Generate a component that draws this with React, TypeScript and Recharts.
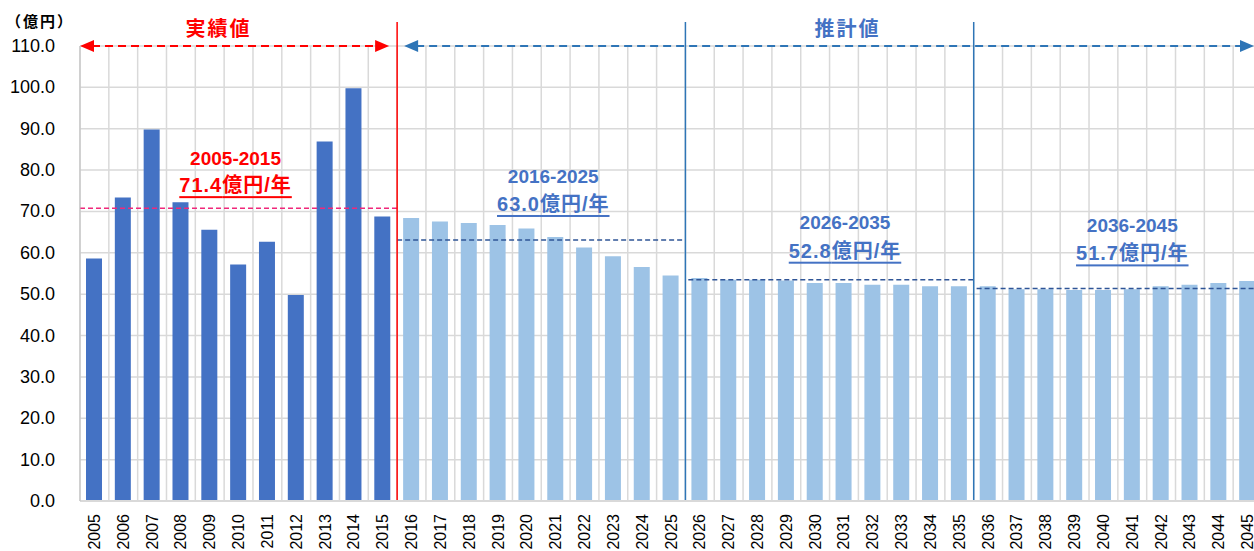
import React from 'react';
import {
  ComposedChart,
  Bar,
  Cell,
  XAxis,
  YAxis,
  CartesianGrid,
  ReferenceLine,
} from 'recharts';

// years on the x axis
const years = [
  '2005', '2006', '2007', '2008', '2009', '2010', '2011', '2012', '2013', '2014',
  '2015', '2016', '2017', '2018', '2019', '2020', '2021', '2022', '2023', '2024',
  '2025', '2026', '2027', '2028', '2029', '2030', '2031', '2032', '2033', '2034',
  '2035', '2036', '2037', '2038', '2039', '2040', '2041', '2042', '2043', '2044',
  '2045',
];

// 実績値 2005-2015 (億円)
const actualValues = [58.6, 73.4, 89.8, 72.2, 65.6, 57.2, 62.7, 49.8, 86.9, 99.8, 68.8];

// 推計値 2016-2045 (億円)
const forecastValues = [
  68.4, 67.6, 67.2, 66.7, 65.9, 63.8, 61.3, 59.2, 56.6, 54.5,
  53.9, 53.5, 53.5, 53.3, 52.7, 52.7, 52.3, 52.3, 51.9, 51.9,
  51.9, 51.2, 51.2, 51.0, 51.0, 51.2, 51.9, 52.3, 52.7, 53.2,
];

const yTicks = [0, 10, 20, 30, 40, 50, 60, 70, 80, 90, 100, 110];

// period averages
const periodNames = ['2005-2015', '2016-2025', '2026-2035', '2036-2045'];
const periodAverages = ['71.4', '63.0', '52.8', '51.7'];
const periodLineLevels = [70.8, 63.1, 53.5, 51.4];
const periodFrom = [0, 11, 21.1, 31.1];
const periodTo = [11, 21, 31, 41];

// boundaries between 実績 / 推計 blocks (in category slots)
const phaseBounds = [11, 21, 31];

const BLUE_DARK = '#4472C4';
const BLUE_LIGHT = '#9DC3E6';
const LINE_BLUE = '#2E75B6';
const RED = '#FF0000';
const FONT = "'Liberation Sans', 'Noto Sans CJK JP', Arial, sans-serif";

// slot = centre of each category on a 0..41 numeric scale (for boundary lines)
const data = years.map((year, i) => ({
  year,
  slot: i + 0.5,
  value: i < actualValues.length ? actualValues[i] : forecastValues[i - actualValues.length],
}));

// annotation layout (px offsets from the average line)
const annot = [
  { dx: -3, titleDy: -50, valueDy: -23, color: RED, line: '#F0287A' },
  { dx: 12, titleDy: -63, valueDy: -36, color: BLUE_DARK, line: '#2F5597' },
  { dx: 14, titleDy: -57, valueDy: -29, color: BLUE_DARK, line: '#2F5597' },
  { dx: 13, titleDy: -63, valueDy: -35, color: BLUE_DARK, line: '#2F5597' },
];

const XTick = (props: any) => {
  const { x, y, payload } = props;
  return (
    <text
      transform={`translate(${x},${y + 5}) rotate(-90)`}
      textAnchor="end"
      dominantBaseline="central"
      fontSize={16}
      fontFamily={FONT}
      fill="#000"
    >
      {payload.value}
    </text>
  );
};

const YTick = (props: any) => {
  const { y, payload } = props;
  return (
    <text x={55} y={y} textAnchor="end" dominantBaseline="central" fontSize={18} fontFamily={FONT} fill="#000">
      {Number(payload.value).toFixed(1)}
    </text>
  );
};

const arrowShape = (color: string, insetL: number, insetR: number) => (p: any) => {
  const y = p.y1;
  const a = Math.min(p.x1, p.x2) + insetL;
  const b = Math.max(p.x1, p.x2) - insetR;
  return (
    <g>
      <line x1={a + 12} x2={b - 12} y1={y} y2={y} stroke={color} strokeWidth={2} strokeDasharray="8 5" />
      <polygon points={`${a},${y} ${a + 14},${y - 6} ${a + 14},${y + 6}`} fill={color} />
      <polygon points={`${b},${y} ${b - 14},${y - 6} ${b - 14},${y + 6}`} fill={color} />
    </g>
  );
};

const tallLine = (color: string) => (p: any) => (
  <line
    x1={p.x1}
    x2={p.x2}
    y1={Math.min(p.y1, p.y2) - 24}
    y2={Math.max(p.y1, p.y2)}
    stroke={color}
    strokeWidth={1.5}
  />
);

const phaseTitle = (text: string, color: string, dx: number) => (props: any) => {
  const vb = props.viewBox || {};
  const cx = vb.x + vb.width / 2 + dx;
  return (
    <text
      x={cx}
      y={vb.y - 17}
      textAnchor="middle"
      dominantBaseline="central"
      fontSize={20}
      fontWeight="bold"
      letterSpacing={2}
      fontFamily={FONT}
      fill={color}
    >
      {text}
    </text>
  );
};

const periodLabel = (i: number) => (props: any) => {
  const vb = props.viewBox || {};
  const a = annot[i];
  const cx = vb.x + vb.width / 2 + a.dx;
  return (
    <g fontFamily={FONT} fontWeight="bold" fill={a.color} textAnchor="middle">
      <text x={cx} y={vb.y + a.titleDy} dominantBaseline="central" fontSize={19}>
        {periodNames[i]}
      </text>
      <text
        x={cx}
        y={vb.y + a.valueDy}
        dominantBaseline="central"
        fontSize={20}
        letterSpacing={1}
        style={{ textDecoration: 'underline' }}
      >
        {periodAverages[i]}億円/年
      </text>
    </g>
  );
};

const gridVerticals = ({ offset }: any) => {
  const left = offset.left;
  const w = offset.width;
  const step = w / years.length;
  return Array.from({ length: years.length + 1 }, (_, i) => left + i * step);
};

export default function App() {
  return (
    <div
      style={{
        position: 'absolute',
        left: 0,
        top: 0,
        width: 1254,
        height: 551,
        overflow: 'hidden',
        background: '#fff',
      }}
    >
      <ComposedChart width={1270} height={551} data={data} margin={{ top: 46, right: 8, bottom: 0, left: 0 }}>
        <CartesianGrid stroke="#D9D9D9" strokeWidth={1.5} verticalCoordinatesGenerator={gridVerticals} />
        <XAxis
          dataKey="year"
          interval={0}
          tickLine={false}
          axisLine={{ stroke: '#D9D9D9', strokeWidth: 2 }}
          height={50}
          tick={<XTick />}
        />
        <XAxis
          xAxisId="num"
          dataKey="slot"
          type="number"
          domain={[0, years.length]}
          allowDataOverflow
          hide
        />
        <YAxis
          domain={[0, 110]}
          ticks={yTicks}
          width={80}
          tickLine={false}
          axisLine={{ stroke: '#BFBFBF' }}
          tick={<YTick />}
          label={() => (
            <text x={40} y={21} textAnchor="middle" dominantBaseline="central" fontSize={15} fontWeight="bold" letterSpacing={2} fontFamily={FONT} fill="#000">
              （億円）
            </text>
          )}
        />
        <Bar dataKey="value" barSize={16} isAnimationActive={false}>
          {data.map((d, i) => (
            <Cell key={d.year} fill={i < actualValues.length ? BLUE_DARK : BLUE_LIGHT} />
          ))}
        </Bar>

        {periodNames.map((name, i) => (
          <ReferenceLine
            key={name}
            xAxisId="num"
            ifOverflow="visible"
            segment={[
              { x: periodFrom[i], y: periodLineLevels[i] },
              { x: periodTo[i], y: periodLineLevels[i] },
            ]}
            stroke={annot[i].line}
            strokeWidth={1.5}
            strokeDasharray="5 3"
            label={periodLabel(i)}
          />
        ))}

        <ReferenceLine
          xAxisId="num"
          ifOverflow="visible"
          segment={[{ x: 0, y: 110 }, { x: phaseBounds[0], y: 110 }]}
          shape={arrowShape(RED, 0, 8)}
          label={phaseTitle('実績値', RED, -20)}
        />
        <ReferenceLine
          xAxisId="num"
          ifOverflow="visible"
          segment={[{ x: phaseBounds[0], y: 110 }, { x: years.length, y: 110 }]}
          shape={arrowShape(LINE_BLUE, 7, 8)}
          label={phaseTitle('推計値', BLUE_DARK, 18)}
        />

        {phaseBounds.map((b, i) => (
          <ReferenceLine key={b} xAxisId="num" ifOverflow="visible" x={b} shape={tallLine(i === 0 ? RED : LINE_BLUE)} />
        ))}
      </ComposedChart>
    </div>
  );
}
